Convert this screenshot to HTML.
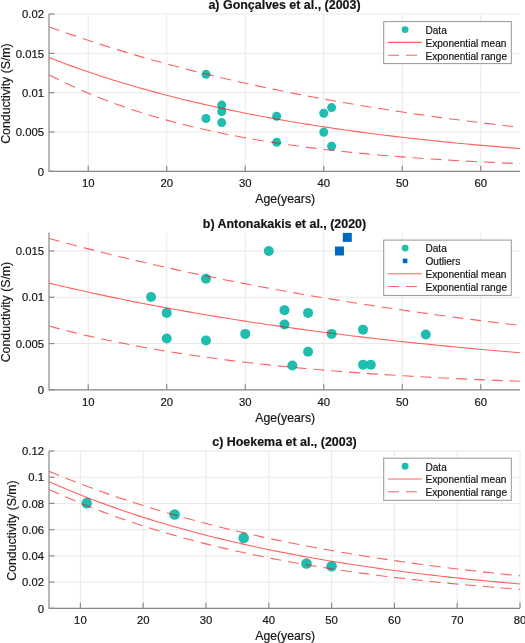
<!DOCTYPE html>
<html><head><meta charset="utf-8"><style>
html,body{margin:0;padding:0;background:#fff;width:525px;height:643px;overflow:hidden}
svg{display:block;will-change:transform}
text{font-family:"Liberation Sans", sans-serif;fill:#141414;stroke:#141414;stroke-width:0.18px}
</style></head><body>
<svg width="525" height="643" viewBox="0 0 525 643">
<rect width="525" height="643" fill="#fff"/>
<line x1="88.25" y1="14.0" x2="88.25" y2="171.3" stroke="#e9e9e9" stroke-width="1"/>
<line x1="166.75" y1="14.0" x2="166.75" y2="171.3" stroke="#e9e9e9" stroke-width="1"/>
<line x1="245.25" y1="14.0" x2="245.25" y2="171.3" stroke="#e9e9e9" stroke-width="1"/>
<line x1="323.75" y1="14.0" x2="323.75" y2="171.3" stroke="#e9e9e9" stroke-width="1"/>
<line x1="402.25" y1="14.0" x2="402.25" y2="171.3" stroke="#e9e9e9" stroke-width="1"/>
<line x1="480.75" y1="14.0" x2="480.75" y2="171.3" stroke="#e9e9e9" stroke-width="1"/>
<line x1="49.0" y1="171.30" x2="520.0" y2="171.30" stroke="#e9e9e9" stroke-width="1"/>
<line x1="49.0" y1="131.98" x2="520.0" y2="131.98" stroke="#e9e9e9" stroke-width="1"/>
<line x1="49.0" y1="92.65" x2="520.0" y2="92.65" stroke="#e9e9e9" stroke-width="1"/>
<line x1="49.0" y1="53.33" x2="520.0" y2="53.33" stroke="#e9e9e9" stroke-width="1"/>
<line x1="49.0" y1="14.00" x2="520.0" y2="14.00" stroke="#e9e9e9" stroke-width="1"/>
<clipPath id="c14"><rect x="49.0" y="14.0" width="471.0" height="157.3"/></clipPath>
<circle cx="206.00" cy="74.32" r="4.5" fill="#1ebdb0"/>
<circle cx="206.00" cy="118.53" r="4.5" fill="#1ebdb0"/>
<circle cx="221.70" cy="105.08" r="4.5" fill="#1ebdb0"/>
<circle cx="221.70" cy="111.53" r="4.5" fill="#1ebdb0"/>
<circle cx="221.70" cy="122.62" r="4.5" fill="#1ebdb0"/>
<circle cx="276.65" cy="116.25" r="4.5" fill="#1ebdb0"/>
<circle cx="276.65" cy="142.20" r="4.5" fill="#1ebdb0"/>
<circle cx="323.75" cy="113.26" r="4.5" fill="#1ebdb0"/>
<circle cx="323.75" cy="132.29" r="4.5" fill="#1ebdb0"/>
<circle cx="331.60" cy="107.59" r="4.5" fill="#1ebdb0"/>
<circle cx="331.60" cy="146.29" r="4.5" fill="#1ebdb0"/>
<polyline points="49.00,57.56 54.89,59.83 60.77,62.05 66.66,64.23 72.55,66.36 78.44,68.45 84.32,70.50 90.21,72.51 96.10,74.48 101.99,76.41 107.88,78.30 113.76,80.15 119.65,81.96 125.54,83.74 131.43,85.49 137.31,87.20 143.20,88.87 149.09,90.52 154.98,92.12 160.86,93.70 166.75,95.25 172.64,96.76 178.53,98.25 184.41,99.70 190.30,101.13 196.19,102.53 202.08,103.90 207.96,105.24 213.85,106.56 219.74,107.85 225.62,109.11 231.51,110.35 237.40,111.56 243.29,112.75 249.17,113.92 255.06,115.06 260.95,116.18 266.84,117.28 272.73,118.36 278.61,119.41 284.50,120.45 290.39,121.46 296.27,122.45 302.16,123.42 308.05,124.38 313.94,125.31 319.82,126.23 325.71,127.13 331.60,128.01 337.49,128.87 343.38,129.71 349.26,130.54 355.15,131.36 361.04,132.15 366.93,132.93 372.81,133.70 378.70,134.44 384.59,135.18 390.47,135.90 396.36,136.60 402.25,137.29 408.14,137.97 414.03,138.64 419.91,139.29 425.80,139.92 431.69,140.55 437.57,141.16 443.46,141.76 449.35,142.35 455.24,142.93 461.12,143.49 467.01,144.05 472.90,144.59 478.79,145.12 484.68,145.64 490.56,146.15 496.45,146.66 502.34,147.15 508.22,147.63 514.11,148.10 520.00,148.56" fill="none" stroke="#ff0000" stroke-opacity="0.62" stroke-width="1.1" clip-path="url(#c14)"/>
<polyline points="49.00,26.77 54.89,28.90 60.77,31.00 66.66,33.07 72.55,35.11 78.44,37.12 84.32,39.09 90.21,41.04 96.10,42.97 101.99,44.86 107.88,46.72 113.76,48.56 119.65,50.37 125.54,52.15 131.43,53.91 137.31,55.64 143.20,57.35 149.09,59.03 154.98,60.68 160.86,62.32 166.75,63.92 172.64,65.51 178.53,67.07 184.41,68.60 190.30,70.12 196.19,71.61 202.08,73.08 207.96,74.53 213.85,75.96 219.74,77.36 225.62,78.75 231.51,80.11 237.40,81.46 243.29,82.78 249.17,84.09 255.06,85.37 260.95,86.64 266.84,87.89 272.73,89.12 278.61,90.33 284.50,91.53 290.39,92.70 296.27,93.86 302.16,95.00 308.05,96.13 313.94,97.24 319.82,98.33 325.71,99.41 331.60,100.47 337.49,101.51 343.38,102.54 349.26,103.55 355.15,104.55 361.04,105.54 366.93,106.51 372.81,107.46 378.70,108.40 384.59,109.33 390.47,110.25 396.36,111.15 402.25,112.03 408.14,112.91 414.03,113.77 419.91,114.62 425.80,115.45 431.69,116.28 437.57,117.09 443.46,117.89 449.35,118.68 455.24,119.45 461.12,120.22 467.01,120.97 472.90,121.71 478.79,122.44 484.68,123.16 490.56,123.87 496.45,124.57 502.34,125.26 508.22,125.94 514.11,126.61 520.00,127.27" fill="none" stroke="#ff0000" stroke-opacity="0.62" stroke-width="1.1" stroke-dasharray="10.95 6.93" clip-path="url(#c14)"/>
<polyline points="49.00,74.79 54.89,77.80 60.77,80.72 66.66,83.55 72.55,86.29 78.44,88.94 84.32,91.52 90.21,94.01 96.10,96.42 101.99,98.76 107.88,101.02 113.76,103.22 119.65,105.34 125.54,107.40 131.43,109.40 137.31,111.33 143.20,113.20 149.09,115.01 154.98,116.77 160.86,118.47 166.75,120.12 172.64,121.72 178.53,123.27 184.41,124.77 190.30,126.22 196.19,127.63 202.08,128.99 207.96,130.31 213.85,131.59 219.74,132.83 225.62,134.03 231.51,135.20 237.40,136.32 243.29,137.42 249.17,138.47 255.06,139.50 260.95,140.49 266.84,141.45 272.73,142.38 278.61,143.29 284.50,144.16 290.39,145.01 296.27,145.83 302.16,146.63 308.05,147.40 313.94,148.14 319.82,148.86 325.71,149.57 331.60,150.24 337.49,150.90 343.38,151.54 349.26,152.16 355.15,152.75 361.04,153.33 366.93,153.89 372.81,154.44 378.70,154.96 384.59,155.47 390.47,155.97 396.36,156.45 402.25,156.91 408.14,157.36 414.03,157.79 419.91,158.22 425.80,158.62 431.69,159.02 437.57,159.40 443.46,159.77 449.35,160.13 455.24,160.48 461.12,160.82 467.01,161.15 472.90,161.46 478.79,161.77 484.68,162.07 490.56,162.36 496.45,162.64 502.34,162.91 508.22,163.17 514.11,163.42 520.00,163.67" fill="none" stroke="#ff0000" stroke-opacity="0.62" stroke-width="1.1" stroke-dasharray="10.95 6.93" clip-path="url(#c14)"/>
<path d="M49.0,14.0 V171.3 H520.0" fill="none" stroke="#8a8a8a" stroke-width="1.2"/>
<line x1="88.25" y1="171.3" x2="88.25" y2="165.8" stroke="#8a8a8a" stroke-width="1.2"/>
<text x="88.25" y="187.20" text-anchor="middle" font-size="11.3">10</text>
<line x1="166.75" y1="171.3" x2="166.75" y2="165.8" stroke="#8a8a8a" stroke-width="1.2"/>
<text x="166.75" y="187.20" text-anchor="middle" font-size="11.3">20</text>
<line x1="245.25" y1="171.3" x2="245.25" y2="165.8" stroke="#8a8a8a" stroke-width="1.2"/>
<text x="245.25" y="187.20" text-anchor="middle" font-size="11.3">30</text>
<line x1="323.75" y1="171.3" x2="323.75" y2="165.8" stroke="#8a8a8a" stroke-width="1.2"/>
<text x="323.75" y="187.20" text-anchor="middle" font-size="11.3">40</text>
<line x1="402.25" y1="171.3" x2="402.25" y2="165.8" stroke="#8a8a8a" stroke-width="1.2"/>
<text x="402.25" y="187.20" text-anchor="middle" font-size="11.3">50</text>
<line x1="480.75" y1="171.3" x2="480.75" y2="165.8" stroke="#8a8a8a" stroke-width="1.2"/>
<text x="480.75" y="187.20" text-anchor="middle" font-size="11.3">60</text>
<line x1="49.0" y1="171.30" x2="54.5" y2="171.30" stroke="#8a8a8a" stroke-width="1.2"/>
<text x="44" y="175.50" text-anchor="end" font-size="11.3">0</text>
<line x1="49.0" y1="131.98" x2="54.5" y2="131.98" stroke="#8a8a8a" stroke-width="1.2"/>
<text x="44" y="136.18" text-anchor="end" font-size="11.3">0.005</text>
<line x1="49.0" y1="92.65" x2="54.5" y2="92.65" stroke="#8a8a8a" stroke-width="1.2"/>
<text x="44" y="96.85" text-anchor="end" font-size="11.3">0.01</text>
<line x1="49.0" y1="53.33" x2="54.5" y2="53.33" stroke="#8a8a8a" stroke-width="1.2"/>
<text x="44" y="57.53" text-anchor="end" font-size="11.3">0.015</text>
<line x1="49.0" y1="14.00" x2="54.5" y2="14.00" stroke="#8a8a8a" stroke-width="1.2"/>
<text x="44" y="18.20" text-anchor="end" font-size="11.3">0.02</text>
<text x="285.2" y="203.10" text-anchor="middle" font-size="12.25">Age(years)</text>
<text transform="translate(9.6,93.55) rotate(-90)" text-anchor="middle" font-size="12.3">Conductivity (S/m)</text>
<text x="284.5" y="9.20" text-anchor="middle" font-size="12.45" font-weight="bold">a) Gonçalves et al., (2003)</text>
<rect x="383.7" y="21.6" width="127.6" height="42.0" fill="#fff" stroke="#979797" stroke-width="1"/>
<circle cx="405.1" cy="29.60" r="3.45" fill="#1ebdb0"/>
<text x="425.4" y="33.90" font-size="10.15">Data</text>
<line x1="388" y1="42.40" x2="421.8" y2="42.40" stroke="#ff0000" stroke-opacity="0.62" stroke-width="1.1"/>
<text x="425.4" y="46.70" font-size="10.15">Exponential mean</text>
<line x1="388" y1="55.20" x2="421.8" y2="55.20" stroke="#ff0000" stroke-opacity="0.62" stroke-width="1.1" stroke-dasharray="11 7"/>
<text x="425.4" y="59.50" font-size="10.15">Exponential range</text>
<line x1="88.25" y1="232.5" x2="88.25" y2="389.8" stroke="#e9e9e9" stroke-width="1"/>
<line x1="166.75" y1="232.5" x2="166.75" y2="389.8" stroke="#e9e9e9" stroke-width="1"/>
<line x1="245.25" y1="232.5" x2="245.25" y2="389.8" stroke="#e9e9e9" stroke-width="1"/>
<line x1="323.75" y1="232.5" x2="323.75" y2="389.8" stroke="#e9e9e9" stroke-width="1"/>
<line x1="402.25" y1="232.5" x2="402.25" y2="389.8" stroke="#e9e9e9" stroke-width="1"/>
<line x1="480.75" y1="232.5" x2="480.75" y2="389.8" stroke="#e9e9e9" stroke-width="1"/>
<line x1="49.0" y1="389.80" x2="520.0" y2="389.80" stroke="#e9e9e9" stroke-width="1"/>
<line x1="49.0" y1="343.54" x2="520.0" y2="343.54" stroke="#e9e9e9" stroke-width="1"/>
<line x1="49.0" y1="297.27" x2="520.0" y2="297.27" stroke="#e9e9e9" stroke-width="1"/>
<line x1="49.0" y1="251.01" x2="520.0" y2="251.01" stroke="#e9e9e9" stroke-width="1"/>
<clipPath id="c232"><rect x="49.0" y="232.5" width="471.0" height="157.3"/></clipPath>
<circle cx="151.05" cy="296.99" r="5.0" fill="#1ebdb0"/>
<circle cx="166.75" cy="312.91" r="5.0" fill="#1ebdb0"/>
<circle cx="166.75" cy="338.54" r="5.0" fill="#1ebdb0"/>
<circle cx="206.00" cy="278.67" r="5.0" fill="#1ebdb0"/>
<circle cx="206.00" cy="340.48" r="5.0" fill="#1ebdb0"/>
<circle cx="245.25" cy="333.91" r="5.0" fill="#1ebdb0"/>
<circle cx="268.80" cy="251.01" r="5.0" fill="#1ebdb0"/>
<circle cx="284.50" cy="310.13" r="5.0" fill="#1ebdb0"/>
<circle cx="284.50" cy="324.47" r="5.0" fill="#1ebdb0"/>
<circle cx="292.35" cy="365.56" r="5.0" fill="#1ebdb0"/>
<circle cx="308.05" cy="312.91" r="5.0" fill="#1ebdb0"/>
<circle cx="308.05" cy="351.68" r="5.0" fill="#1ebdb0"/>
<circle cx="331.60" cy="333.91" r="5.0" fill="#1ebdb0"/>
<circle cx="363.00" cy="329.66" r="5.0" fill="#1ebdb0"/>
<circle cx="363.00" cy="364.82" r="5.0" fill="#1ebdb0"/>
<circle cx="370.85" cy="364.82" r="5.0" fill="#1ebdb0"/>
<circle cx="425.80" cy="334.47" r="5.0" fill="#1ebdb0"/>
<rect x="334.95" y="246.51" width="9" height="9" fill="#0068bf"/>
<rect x="342.80" y="232.90" width="9" height="9" fill="#0068bf"/>
<polyline points="49.00,283.14 54.89,284.54 60.77,285.93 66.66,287.29 72.55,288.64 78.44,289.97 84.32,291.28 90.21,292.57 96.10,293.85 101.99,295.11 107.88,296.36 113.76,297.59 119.65,298.80 125.54,299.99 131.43,301.17 137.31,302.34 143.20,303.49 149.09,304.62 154.98,305.74 160.86,306.85 166.75,307.94 172.64,309.01 178.53,310.07 184.41,311.12 190.30,312.16 196.19,313.18 202.08,314.18 207.96,315.18 213.85,316.16 219.74,317.13 225.62,318.08 231.51,319.02 237.40,319.95 243.29,320.87 249.17,321.78 255.06,322.67 260.95,323.55 266.84,324.43 272.73,325.28 278.61,326.13 284.50,326.97 290.39,327.80 296.27,328.61 302.16,329.41 308.05,330.21 313.94,330.99 319.82,331.76 325.71,332.53 331.60,333.28 337.49,334.02 343.38,334.76 349.26,335.48 355.15,336.19 361.04,336.90 366.93,337.59 372.81,338.28 378.70,338.96 384.59,339.62 390.47,340.28 396.36,340.93 402.25,341.58 408.14,342.21 414.03,342.84 419.91,343.45 425.80,344.06 431.69,344.66 437.57,345.26 443.46,345.84 449.35,346.42 455.24,346.99 461.12,347.55 467.01,348.11 472.90,348.66 478.79,349.20 484.68,349.73 490.56,350.26 496.45,350.78 502.34,351.29 508.22,351.80 514.11,352.29 520.00,352.79" fill="none" stroke="#ff0000" stroke-opacity="0.62" stroke-width="1.1" clip-path="url(#c232)"/>
<polyline points="49.00,238.48 54.89,240.08 60.77,241.67 66.66,243.25 72.55,244.80 78.44,246.34 84.32,247.86 90.21,249.37 96.10,250.86 101.99,252.34 107.88,253.80 113.76,255.24 119.65,256.67 125.54,258.08 131.43,259.48 137.31,260.86 143.20,262.23 149.09,263.59 154.98,264.93 160.86,266.25 166.75,267.56 172.64,268.86 178.53,270.14 184.41,271.41 190.30,272.67 196.19,273.91 202.08,275.14 207.96,276.36 213.85,277.57 219.74,278.76 225.62,279.94 231.51,281.10 237.40,282.26 243.29,283.40 249.17,284.53 255.06,285.65 260.95,286.75 266.84,287.84 272.73,288.93 278.61,290.00 284.50,291.06 290.39,292.11 296.27,293.14 302.16,294.17 308.05,295.18 313.94,296.19 319.82,297.18 325.71,298.17 331.60,299.14 337.49,300.10 343.38,301.05 349.26,302.00 355.15,302.93 361.04,303.85 366.93,304.76 372.81,305.66 378.70,306.56 384.59,307.44 390.47,308.32 396.36,309.18 402.25,310.04 408.14,310.88 414.03,311.72 419.91,312.55 425.80,313.37 431.69,314.18 437.57,314.98 443.46,315.78 449.35,316.56 455.24,317.34 461.12,318.11 467.01,318.87 472.90,319.62 478.79,320.37 484.68,321.11 490.56,321.84 496.45,322.56 502.34,323.27 508.22,323.98 514.11,324.68 520.00,325.37" fill="none" stroke="#ff0000" stroke-opacity="0.62" stroke-width="1.1" stroke-dasharray="10.95 6.93" clip-path="url(#c232)"/>
<polyline points="49.00,326.04 54.89,327.62 60.77,329.17 66.66,330.68 72.55,332.14 78.44,333.58 84.32,334.98 90.21,336.34 96.10,337.67 101.99,338.96 107.88,340.23 113.76,341.46 119.65,342.66 125.54,343.83 131.43,344.97 137.31,346.09 143.20,347.18 149.09,348.23 154.98,349.27 160.86,350.28 166.75,351.26 172.64,352.22 178.53,353.15 184.41,354.06 190.30,354.95 196.19,355.82 202.08,356.66 207.96,357.48 213.85,358.29 219.74,359.07 225.62,359.83 231.51,360.58 237.40,361.31 243.29,362.01 249.17,362.70 255.06,363.38 260.95,364.03 266.84,364.67 272.73,365.30 278.61,365.91 284.50,366.50 290.39,367.08 296.27,367.65 302.16,368.20 308.05,368.73 313.94,369.26 319.82,369.77 325.71,370.27 331.60,370.75 337.49,371.22 343.38,371.69 349.26,372.14 355.15,372.58 361.04,373.00 366.93,373.42 372.81,373.83 378.70,374.23 384.59,374.61 390.47,374.99 396.36,375.36 402.25,375.72 408.14,376.07 414.03,376.41 419.91,376.74 425.80,377.07 431.69,377.38 437.57,377.69 443.46,377.99 449.35,378.29 455.24,378.57 461.12,378.85 467.01,379.12 472.90,379.39 478.79,379.65 484.68,379.90 490.56,380.15 496.45,380.39 502.34,380.62 508.22,380.85 514.11,381.07 520.00,381.29" fill="none" stroke="#ff0000" stroke-opacity="0.62" stroke-width="1.1" stroke-dasharray="10.95 6.93" clip-path="url(#c232)"/>
<path d="M49.0,232.5 V389.8 H520.0" fill="none" stroke="#8a8a8a" stroke-width="1.2"/>
<line x1="88.25" y1="389.8" x2="88.25" y2="384.3" stroke="#8a8a8a" stroke-width="1.2"/>
<text x="88.25" y="405.70" text-anchor="middle" font-size="11.3">10</text>
<line x1="166.75" y1="389.8" x2="166.75" y2="384.3" stroke="#8a8a8a" stroke-width="1.2"/>
<text x="166.75" y="405.70" text-anchor="middle" font-size="11.3">20</text>
<line x1="245.25" y1="389.8" x2="245.25" y2="384.3" stroke="#8a8a8a" stroke-width="1.2"/>
<text x="245.25" y="405.70" text-anchor="middle" font-size="11.3">30</text>
<line x1="323.75" y1="389.8" x2="323.75" y2="384.3" stroke="#8a8a8a" stroke-width="1.2"/>
<text x="323.75" y="405.70" text-anchor="middle" font-size="11.3">40</text>
<line x1="402.25" y1="389.8" x2="402.25" y2="384.3" stroke="#8a8a8a" stroke-width="1.2"/>
<text x="402.25" y="405.70" text-anchor="middle" font-size="11.3">50</text>
<line x1="480.75" y1="389.8" x2="480.75" y2="384.3" stroke="#8a8a8a" stroke-width="1.2"/>
<text x="480.75" y="405.70" text-anchor="middle" font-size="11.3">60</text>
<line x1="49.0" y1="389.80" x2="54.5" y2="389.80" stroke="#8a8a8a" stroke-width="1.2"/>
<text x="44" y="394.00" text-anchor="end" font-size="11.3">0</text>
<line x1="49.0" y1="343.54" x2="54.5" y2="343.54" stroke="#8a8a8a" stroke-width="1.2"/>
<text x="44" y="347.74" text-anchor="end" font-size="11.3">0.005</text>
<line x1="49.0" y1="297.27" x2="54.5" y2="297.27" stroke="#8a8a8a" stroke-width="1.2"/>
<text x="44" y="301.47" text-anchor="end" font-size="11.3">0.01</text>
<line x1="49.0" y1="251.01" x2="54.5" y2="251.01" stroke="#8a8a8a" stroke-width="1.2"/>
<text x="44" y="255.21" text-anchor="end" font-size="11.3">0.015</text>
<text x="285.2" y="421.60" text-anchor="middle" font-size="12.25">Age(years)</text>
<text transform="translate(9.6,312.05) rotate(-90)" text-anchor="middle" font-size="12.3">Conductivity (S/m)</text>
<text x="284.5" y="227.70" text-anchor="middle" font-size="12.45" font-weight="bold">b) Antonakakis et al., (2020)</text>
<rect x="383.7" y="240.1" width="127.6" height="55.29999999999998" fill="#fff" stroke="#979797" stroke-width="1"/>
<circle cx="405.1" cy="248.10" r="3.45" fill="#1ebdb0"/>
<text x="425.4" y="252.40" font-size="10.15">Data</text>
<rect x="402.8" y="258.60" width="4.6" height="4.6" fill="#0068bf"/>
<text x="425.4" y="265.20" font-size="10.15">Outliers</text>
<line x1="388" y1="273.70" x2="421.8" y2="273.70" stroke="#ff0000" stroke-opacity="0.62" stroke-width="1.1"/>
<text x="425.4" y="278.00" font-size="10.15">Exponential mean</text>
<line x1="388" y1="286.50" x2="421.8" y2="286.50" stroke="#ff0000" stroke-opacity="0.62" stroke-width="1.1" stroke-dasharray="11 7"/>
<text x="425.4" y="290.80" font-size="10.15">Exponential range</text>
<line x1="80.40" y1="451.0" x2="80.40" y2="608.3" stroke="#e9e9e9" stroke-width="1"/>
<line x1="143.20" y1="451.0" x2="143.20" y2="608.3" stroke="#e9e9e9" stroke-width="1"/>
<line x1="206.00" y1="451.0" x2="206.00" y2="608.3" stroke="#e9e9e9" stroke-width="1"/>
<line x1="268.80" y1="451.0" x2="268.80" y2="608.3" stroke="#e9e9e9" stroke-width="1"/>
<line x1="331.60" y1="451.0" x2="331.60" y2="608.3" stroke="#e9e9e9" stroke-width="1"/>
<line x1="394.40" y1="451.0" x2="394.40" y2="608.3" stroke="#e9e9e9" stroke-width="1"/>
<line x1="457.20" y1="451.0" x2="457.20" y2="608.3" stroke="#e9e9e9" stroke-width="1"/>
<line x1="520.00" y1="451.0" x2="520.00" y2="608.3" stroke="#e9e9e9" stroke-width="1"/>
<line x1="49.0" y1="608.30" x2="520.0" y2="608.30" stroke="#e9e9e9" stroke-width="1"/>
<line x1="49.0" y1="582.08" x2="520.0" y2="582.08" stroke="#e9e9e9" stroke-width="1"/>
<line x1="49.0" y1="555.87" x2="520.0" y2="555.87" stroke="#e9e9e9" stroke-width="1"/>
<line x1="49.0" y1="529.65" x2="520.0" y2="529.65" stroke="#e9e9e9" stroke-width="1"/>
<line x1="49.0" y1="503.43" x2="520.0" y2="503.43" stroke="#e9e9e9" stroke-width="1"/>
<line x1="49.0" y1="477.22" x2="520.0" y2="477.22" stroke="#e9e9e9" stroke-width="1"/>
<line x1="49.0" y1="451.00" x2="520.0" y2="451.00" stroke="#e9e9e9" stroke-width="1"/>
<clipPath id="c451"><rect x="49.0" y="451.0" width="471.0" height="157.29999999999995"/></clipPath>
<circle cx="86.68" cy="503.17" r="5.3" fill="#1ebdb0"/>
<circle cx="174.60" cy="514.44" r="5.3" fill="#1ebdb0"/>
<circle cx="243.68" cy="537.91" r="5.3" fill="#1ebdb0"/>
<circle cx="306.48" cy="563.47" r="5.3" fill="#1ebdb0"/>
<circle cx="331.60" cy="566.22" r="5.3" fill="#1ebdb0"/>
<polyline points="49.00,481.70 54.89,484.28 60.77,486.81 66.66,489.29 72.55,491.72 78.44,494.09 84.32,496.42 90.21,498.70 96.10,500.94 101.99,503.13 107.88,505.27 113.76,507.38 119.65,509.43 125.54,511.45 131.43,513.43 137.31,515.36 143.20,517.26 149.09,519.11 154.98,520.93 160.86,522.71 166.75,524.46 172.64,526.17 178.53,527.84 184.41,529.49 190.30,531.09 196.19,532.67 202.08,534.21 207.96,535.72 213.85,537.20 219.74,538.65 225.62,540.07 231.51,541.46 237.40,542.83 243.29,544.16 249.17,545.47 255.06,546.75 260.95,548.01 266.84,549.24 272.73,550.44 278.61,551.62 284.50,552.78 290.39,553.91 296.27,555.02 302.16,556.11 308.05,557.17 313.94,558.21 319.82,559.23 325.71,560.24 331.60,561.22 337.49,562.18 343.38,563.12 349.26,564.04 355.15,564.94 361.04,565.83 366.93,566.69 372.81,567.54 378.70,568.37 384.59,569.19 390.47,569.98 396.36,570.77 402.25,571.53 408.14,572.28 414.03,573.02 419.91,573.73 425.80,574.44 431.69,575.13 437.57,575.81 443.46,576.47 449.35,577.12 455.24,577.75 461.12,578.38 467.01,578.99 472.90,579.59 478.79,580.17 484.68,580.75 490.56,581.31 496.45,581.86 502.34,582.40 508.22,582.93 514.11,583.44 520.00,583.95" fill="none" stroke="#ff0000" stroke-opacity="0.62" stroke-width="1.1" clip-path="url(#c451)"/>
<polyline points="49.00,471.34 54.89,473.78 60.77,476.18 66.66,478.53 72.55,480.84 78.44,483.12 84.32,485.35 90.21,487.54 96.10,489.69 101.99,491.80 107.88,493.88 113.76,495.92 119.65,497.92 125.54,499.89 131.43,501.82 137.31,503.72 143.20,505.58 149.09,507.41 154.98,509.21 160.86,510.98 166.75,512.71 172.64,514.41 178.53,516.09 184.41,517.73 190.30,519.34 196.19,520.93 202.08,522.49 207.96,524.02 213.85,525.52 219.74,526.99 225.62,528.44 231.51,529.86 237.40,531.26 243.29,532.64 249.17,533.98 255.06,535.31 260.95,536.61 266.84,537.89 272.73,539.14 278.61,540.37 284.50,541.58 290.39,542.77 296.27,543.94 302.16,545.09 308.05,546.21 313.94,547.32 319.82,548.41 325.71,549.47 331.60,550.52 337.49,551.55 343.38,552.56 349.26,553.56 355.15,554.53 361.04,555.49 366.93,556.43 372.81,557.36 378.70,558.26 384.59,559.16 390.47,560.03 396.36,560.89 402.25,561.74 408.14,562.57 414.03,563.38 419.91,564.18 425.80,564.97 431.69,565.74 437.57,566.50 443.46,567.24 449.35,567.98 455.24,568.69 461.12,569.40 467.01,570.09 472.90,570.77 478.79,571.44 484.68,572.10 490.56,572.74 496.45,573.38 502.34,574.00 508.22,574.61 514.11,575.21 520.00,575.80" fill="none" stroke="#ff0000" stroke-opacity="0.62" stroke-width="1.1" stroke-dasharray="10.95 6.93" clip-path="url(#c451)"/>
<polyline points="49.00,489.42 54.89,492.12 60.77,494.76 66.66,497.34 72.55,499.86 78.44,502.32 84.32,504.72 90.21,507.07 96.10,509.37 101.99,511.62 107.88,513.81 113.76,515.96 119.65,518.05 125.54,520.10 131.43,522.10 137.31,524.06 143.20,525.97 149.09,527.84 154.98,529.67 160.86,531.45 166.75,533.19 172.64,534.90 178.53,536.57 184.41,538.19 190.30,539.79 196.19,541.34 202.08,542.86 207.96,544.35 213.85,545.80 219.74,547.22 225.62,548.60 231.51,549.96 237.40,551.28 243.29,552.58 249.17,553.84 255.06,555.08 260.95,556.28 266.84,557.47 272.73,558.62 278.61,559.75 284.50,560.85 290.39,561.93 296.27,562.98 302.16,564.01 308.05,565.01 313.94,566.00 319.82,566.96 325.71,567.89 331.60,568.81 337.49,569.71 343.38,570.58 349.26,571.44 355.15,572.28 361.04,573.09 366.93,573.89 372.81,574.67 378.70,575.44 384.59,576.18 390.47,576.91 396.36,577.62 402.25,578.32 408.14,579.00 414.03,579.67 419.91,580.32 425.80,580.95 431.69,581.57 437.57,582.18 443.46,582.77 449.35,583.35 455.24,583.92 461.12,584.47 467.01,585.01 472.90,585.54 478.79,586.06 484.68,586.56 490.56,587.05 496.45,587.54 502.34,588.01 508.22,588.47 514.11,588.92 520.00,589.36" fill="none" stroke="#ff0000" stroke-opacity="0.62" stroke-width="1.1" stroke-dasharray="10.95 6.93" clip-path="url(#c451)"/>
<path d="M49.0,451.0 V608.3 H520.0" fill="none" stroke="#8a8a8a" stroke-width="1.2"/>
<line x1="80.40" y1="608.3" x2="80.40" y2="602.8" stroke="#8a8a8a" stroke-width="1.2"/>
<text x="80.40" y="624.20" text-anchor="middle" font-size="11.3">10</text>
<line x1="143.20" y1="608.3" x2="143.20" y2="602.8" stroke="#8a8a8a" stroke-width="1.2"/>
<text x="143.20" y="624.20" text-anchor="middle" font-size="11.3">20</text>
<line x1="206.00" y1="608.3" x2="206.00" y2="602.8" stroke="#8a8a8a" stroke-width="1.2"/>
<text x="206.00" y="624.20" text-anchor="middle" font-size="11.3">30</text>
<line x1="268.80" y1="608.3" x2="268.80" y2="602.8" stroke="#8a8a8a" stroke-width="1.2"/>
<text x="268.80" y="624.20" text-anchor="middle" font-size="11.3">40</text>
<line x1="331.60" y1="608.3" x2="331.60" y2="602.8" stroke="#8a8a8a" stroke-width="1.2"/>
<text x="331.60" y="624.20" text-anchor="middle" font-size="11.3">50</text>
<line x1="394.40" y1="608.3" x2="394.40" y2="602.8" stroke="#8a8a8a" stroke-width="1.2"/>
<text x="394.40" y="624.20" text-anchor="middle" font-size="11.3">60</text>
<line x1="457.20" y1="608.3" x2="457.20" y2="602.8" stroke="#8a8a8a" stroke-width="1.2"/>
<text x="457.20" y="624.20" text-anchor="middle" font-size="11.3">70</text>
<line x1="520.00" y1="608.3" x2="520.00" y2="602.8" stroke="#8a8a8a" stroke-width="1.2"/>
<text x="520.00" y="624.20" text-anchor="middle" font-size="11.3">80</text>
<line x1="49.0" y1="608.30" x2="54.5" y2="608.30" stroke="#8a8a8a" stroke-width="1.2"/>
<text x="44" y="612.50" text-anchor="end" font-size="11.3">0</text>
<line x1="49.0" y1="582.08" x2="54.5" y2="582.08" stroke="#8a8a8a" stroke-width="1.2"/>
<text x="44" y="586.28" text-anchor="end" font-size="11.3">0.02</text>
<line x1="49.0" y1="555.87" x2="54.5" y2="555.87" stroke="#8a8a8a" stroke-width="1.2"/>
<text x="44" y="560.07" text-anchor="end" font-size="11.3">0.04</text>
<line x1="49.0" y1="529.65" x2="54.5" y2="529.65" stroke="#8a8a8a" stroke-width="1.2"/>
<text x="44" y="533.85" text-anchor="end" font-size="11.3">0.06</text>
<line x1="49.0" y1="503.43" x2="54.5" y2="503.43" stroke="#8a8a8a" stroke-width="1.2"/>
<text x="44" y="507.63" text-anchor="end" font-size="11.3">0.08</text>
<line x1="49.0" y1="477.22" x2="54.5" y2="477.22" stroke="#8a8a8a" stroke-width="1.2"/>
<text x="44" y="481.42" text-anchor="end" font-size="11.3">0.1</text>
<line x1="49.0" y1="451.00" x2="54.5" y2="451.00" stroke="#8a8a8a" stroke-width="1.2"/>
<text x="44" y="455.20" text-anchor="end" font-size="11.3">0.12</text>
<text x="285.2" y="640.10" text-anchor="middle" font-size="12.25">Age(years)</text>
<text transform="translate(15.7,530.55) rotate(-90)" text-anchor="middle" font-size="12.3">Conductivity (S/m)</text>
<text x="284.5" y="446.20" text-anchor="middle" font-size="12.45" font-weight="bold">c) Hoekema et al., (2003)</text>
<rect x="383.7" y="458.2" width="127.6" height="42.10000000000002" fill="#fff" stroke="#979797" stroke-width="1"/>
<circle cx="405.1" cy="466.20" r="3.45" fill="#1ebdb0"/>
<text x="425.4" y="470.50" font-size="10.15">Data</text>
<line x1="388" y1="479.00" x2="421.8" y2="479.00" stroke="#ff0000" stroke-opacity="0.62" stroke-width="1.1"/>
<text x="425.4" y="483.30" font-size="10.15">Exponential mean</text>
<line x1="388" y1="491.80" x2="421.8" y2="491.80" stroke="#ff0000" stroke-opacity="0.62" stroke-width="1.1" stroke-dasharray="11 7"/>
<text x="425.4" y="496.10" font-size="10.15">Exponential range</text>
</svg></body></html>
